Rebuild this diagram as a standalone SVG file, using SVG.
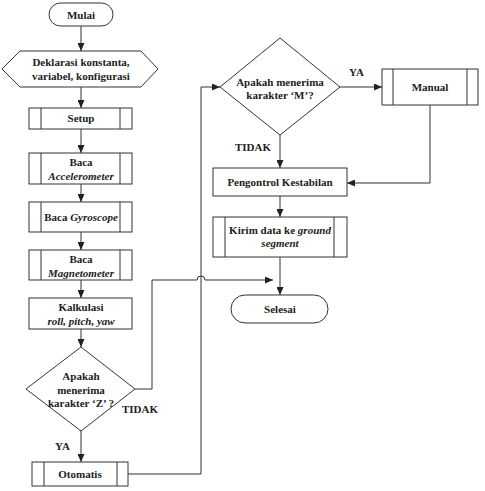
<svg xmlns="http://www.w3.org/2000/svg" width="485" height="491" viewBox="0 0 485 491">
<style>
.s{fill:#fff;stroke:#333;stroke-width:1}
.l{fill:none;stroke:#333;stroke-width:1}
text{font-size:11px;font-weight:bold;fill:#222;text-anchor:middle}
.i{font-style:italic}
.lb{text-anchor:start}
</style>
<defs>
<marker id="a" markerUnits="userSpaceOnUse" markerWidth="8" markerHeight="7" refX="8" refY="3.5" orient="auto">
<path d="M0,0 L8,3.5 L0,7 z" fill="#222"/>
</marker>
</defs>
<rect width="485" height="491" fill="#fff"/>
<g font-family="'Liberation Serif', 'DejaVu Serif', serif">
<g id="connectors">
<path class="l" d="M81,26 V51" marker-end="url(#a)"/>
<path class="l" d="M81,87 V108" marker-end="url(#a)"/>
<path class="l" d="M81,129 V153" marker-end="url(#a)"/>
<path class="l" d="M81,184 V202" marker-end="url(#a)"/>
<path class="l" d="M81,232 V250" marker-end="url(#a)"/>
<path class="l" d="M81,280 V298" marker-end="url(#a)"/>
<path class="l" d="M81,329 V347" marker-end="url(#a)"/>
<path class="l" d="M81,431 V462" marker-end="url(#a)"/>
<path class="l" d="M135,389 H152 V280 H197 A4,4 0 0 1 205,280 H273" marker-end="url(#a)"/>
<path class="l" d="M128,474 H201 V87 H220" marker-end="url(#a)"/>
<path class="l" d="M340,87 H382" marker-end="url(#a)"/>
<path class="l" d="M430,105 V183 H347" marker-end="url(#a)"/>
<path class="l" d="M280,135 V168" marker-end="url(#a)"/>
<path class="l" d="M280,196 V217" marker-end="url(#a)"/>
<path class="l" d="M280,257 V295" marker-end="url(#a)"/>
<text class="lb" x="122" y="413">TIDAK</text>
<text class="lb" x="55" y="450">YA</text>
<text class="lb" x="349" y="76">YA</text>
<text class="lb" x="235" y="151">TIDAK</text>
</g>
<g id="mulai">
<rect class="s" x="49" y="3" width="64" height="23" rx="11.5"/>
<text x="81" y="19">Mulai</text>
</g>
<g id="deklarasi">
<polygon class="s" points="2,69 20,51 141,51 158,69 141,87 20,87"/>
<text x="81" y="66">Deklarasi konstanta,</text>
<text x="81" y="80">variabel, konfigurasi</text>
</g>
<g id="setup">
<rect class="s" x="29" y="108" width="103" height="21"/>
<path class="l" d="M41,108 V129 M120,108 V129"/>
<text x="81" y="122">Setup</text>
</g>
<g id="accel">
<rect class="s" x="29" y="153" width="103" height="31"/>
<path class="l" d="M41,153 V184 M120,153 V184"/>
<text x="81" y="166">Baca</text>
<text x="81" y="180" class="i">Accelerometer</text>
</g>
<g id="gyro">
<rect class="s" x="29" y="202" width="103" height="30"/>
<path class="l" d="M41,202 V232 M120,202 V232"/>
<text x="81" y="221">Baca <tspan class="i">Gyroscope</tspan></text>
</g>
<g id="magnet">
<rect class="s" x="29" y="250" width="103" height="30"/>
<path class="l" d="M41,250 V280 M120,250 V280"/>
<text x="81" y="263">Baca</text>
<text x="81" y="277" class="i">Magnetometer</text>
</g>
<g id="kalkulasi">
<rect class="s" x="29" y="298" width="103" height="31"/>
<text x="81" y="311">Kalkulasi</text>
<text x="81" y="325" class="i">roll, pitch, yaw</text>
</g>
<g id="decisionZ">
<polygon class="s" points="81,347 135,389 81,431 26,389"/>
<text x="81" y="380">Apakah</text>
<text x="81" y="394">menerima</text>
<text x="81" y="407">karakter ‘Z’ ?</text>
</g>
<g id="otomatis">
<rect class="s" x="32" y="462" width="96" height="24"/>
<path class="l" d="M44,462 V486 M117,462 V486"/>
<text x="80" y="478">Otomatis</text>
</g>
<g id="decisionM">
<polygon class="s" points="280,38 340,87 280,135 220,87"/>
<text x="280" y="86">Apakah menerima</text>
<text x="280" y="99">karakter ‘M’?</text>
</g>
<g id="manual">
<rect class="s" x="382" y="69" width="96" height="36"/>
<path class="l" d="M393,69 V105 M467,69 V105"/>
<text x="430" y="91">Manual</text>
</g>
<g id="pengontrol">
<rect class="s" x="213" y="168" width="134" height="28"/>
<text x="280" y="186">Pengontrol Kestabilan</text>
</g>
<g id="kirim">
<rect class="s" x="213" y="217" width="134" height="40"/>
<path class="l" d="M225,217 V257 M334,217 V257"/>
<text x="280" y="234">Kirim data ke <tspan class="i">ground</tspan></text>
<text x="280" y="247" class="i">segment</text>
</g>
<g id="selesai">
<rect class="s" x="231" y="295" width="97" height="28" rx="14"/>
<text x="280" y="313">Selesai</text>
</g>
</g>
</svg>
